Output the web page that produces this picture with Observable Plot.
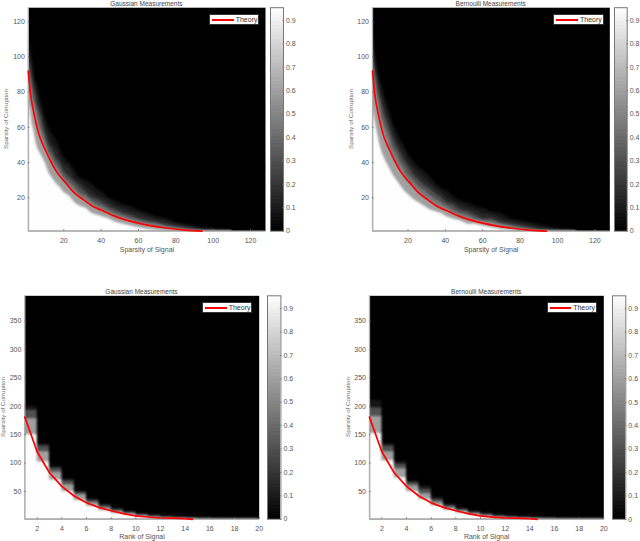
<!DOCTYPE html>
<html><head><meta charset="utf-8">
<script src="https://cdn.jsdelivr.net/npm/d3@7"></script>
<script src="https://cdn.jsdelivr.net/npm/@observablehq/plot@0.6"></script>
<style>
html,body{margin:0;padding:0;background:#fff;width:640px;height:541px;overflow:hidden}
#root{position:relative;width:640px;height:541px;font-family:"Liberation Sans",sans-serif}
#root svg{position:absolute;font-family:"Liberation Sans",sans-serif;background:transparent}
.t{position:absolute;font-size:6.5px;color:#444;text-align:center;white-space:nowrap;line-height:8px}
.lg{position:absolute;box-sizing:border-box;background:#fff;border:.6px solid #333;font-size:7px;color:#333;line-height:10px;white-space:nowrap}
.lg i{position:absolute;left:2px;top:4.2px;width:21.5px;height:1.6px;background:#f00}
.lg span{position:absolute;left:25.7px;top:-.4px}
</style></head><body><div id="root"></div>
<script>
// ---------- values ----------
const sparseX = [1,2,3,4,5,6,8,10,12,14,16,18,20,23,26,29,32,35,38,41,44,48,52,56,60,65,70,75,80,85,90,95,100,105,110];
const gaussSparse95 = [74,70,62,58,52,48,44,40,34,31,28,26,23,21,17,15,14,11,10,9,8,6,5,4,3,2,1.5,1,1,1,1,1,1,1,1];
const gaussSparse60 = [92,84,77,72,68,62,54,49,44,39,36,33,29,26,23,20,18,16,14,12,11,9,8,7,5,4.5,3.5,3,2,1.5,1,1,1,1,1];
const gaussSparse45 = [96,90,82,76,72,68,59,54,46,43,39,36,32,29,26,22,21,18,16,15,13,11,9.5,8,7,5.5,5,3.5,3,2,1.5,1,1,1,1];
const gaussSparse30 = [100,95,88,83,78,72,66,57,50,47,42,40,35,32,29,26,23,20,19,17,15,13,11,10,8,7,6,4.5,3.5,3,2,1.5,1,1,1];
const gaussSparse15 = [106,100,95,87,82,78,70,61,55,50,48,43,39,37,31,29,26,24,21,20,18,15,14,12,11,9,7.5,6.5,5,4,3,2,1.5,1,1];
const gaussSparse08 = [114,108,100,92,86,84,74,66,60,56,53,48,43,40,35,31,30,28,25,23,20,18,16,15,13,11,9,8,6,5,4,3,2.5,2,1.4];
const bernSparse95 = [72,66,60,55,50,46,41,37,33,30,27,24,22,19,17,15,13,12,11,9,8,7,5,5,4,3,2,1.5,1,1,1,1,1,1,1];
const bernSparse60 = [92,85,78,72,66,62,55,48,43,39,36,32,29,26,23,20,18,16,14,13,11,9,8,7,6,5,4,3,2,1.5,1,1,1,1,1];
const bernSparse45 = [98,90,84,78,73,67,60,55,48,45,40,37,33,30,26,24,21,19,17,15,13,11,10,8,7,6.5,5,4,3,2,1.5,1,1,1,1];
const bernSparse30 = [104,96,90,84,78,74,66,60,54,49,45,41,38,33,30,27,25,22,20,17,16,13,12,10,8,8,6,5,4,3,2,1.5,1,1,1];
const bernSparse15 = [110,102,94,88,84,79,71,65,58,53,49,46,41,37,34,31,28,25,23,20,18,16,14,13,11,10,8,6.5,5.5,4.5,3,2.5,1.5,1,1];
const bernSparse08 = [116,108,98,92,88,84,76,70,62,58,53,50,45,41,37,35,32,28,25,24,21,18,17,15,14,12,11,8,7,6,5,3.5,2.5,2,1.3];
const sparseTheoryX = [1,2.2,4,6.6,10.2,12.9,16,21.8,25,30.7,35,40,48.6,56,66.5,75,85,94];
const sparseTheoryY = [92,79,68,56.3,47,41,35,27.5,23.5,18.8,15.5,13,9,6.6,4.2,2.8,1.6,1];

const rankX = [1,2,3,4,5,6,7,8,9,10,11,12,13,14,15,16,17,18,19,20];
const gaussRank95 = [150,102,70,50,34,24,16,11,8,5,3,2,1,1,1,1,1,1,1,1];
const gaussRank60 = [178,120,84,62,44,30,21,15,11,7.5,5,3.5,2.5,2,1,1,1,1,1,1];
const gaussRank30 = [193,130,91,69,48,34,25,18,13,9,7,5,4,3,2,1,1,1,1,1];
const gaussRank08 = [200,134,94,72,51,37,27,20,15,11,9,7,6,5,3.5,2,1,1,1,1];
const bernRank95 = [152,104,74,50,36,25,17,12,8,5,3,2,1,1,1,1,1,1,1,1];
const bernRank60 = [182,120,90,60,46,31,22,16,11,7.5,5,4,3,2,1.5,1,1,1,1,1];
const bernRank30 = [197,130,98,66,54,36,25,18,13,10,7,5,4,3,2,1,1,1,1,1];
const bernRank08 = [210,134,103,69,60,40,28,21,16,12,9,7,6,5,4,2,1,1,1,1];
const rankTheoryX = [1,2,3,4,5,6,7,8,9,10,11,12,13,14,14.6];
const rankTheoryY = [181,120,83,59,42,30,22,16,11,7,5,3.5,3,2,1];

const sparseLevels = [0.08,0.15,0.3,0.45,0.6,0.95];
const rankLevels = [0.08,0.3,0.6,0.95];
const colorTicks = [0,0.1,0.2,0.3,0.4,0.5,0.6,0.7,0.8,0.9];
const colorTop = 0.955;
const sparseTicks = [20,40,60,80,100,120];
const rankXTicks = [2,4,6,8,10,12,14,16,18,20];
const rankYTicks = [50,100,150,200,250,300,350];
const titleGauss = "Gaussian Measurements";
const titleBern = "Bernoulli Measurements";
const legendText = "Theory";

// ---------- layout ----------
const panels = [
 {title:titleGauss,xlabel:"Sparsity of Signal",X:sparseX,levels:sparseLevels,L:[gaussSparse08,gaussSparse15,gaussSparse30,gaussSparse45,gaussSparse60,gaussSparse95],tx:sparseTheoryX,ty:sparseTheoryY,
  xd:[1,128],yd:[1,128],xt:sparseTicks,yt:sparseTicks,curve:"linear",line:"monotone-x",blur:0.8,
  left:27.8,right:265,top:7.2,bottom:230.7,cbL:269.7,cbR:282.7,h:256,lab:22,xo:21,lgX:209,lgY:14},
 {title:titleBern,xlabel:"Sparsity of Signal",X:sparseX,levels:sparseLevels,L:[bernSparse08,bernSparse15,bernSparse30,bernSparse45,bernSparse60,bernSparse95],tx:sparseTheoryX,ty:sparseTheoryY,
  xd:[1,128],yd:[1,128],xt:sparseTicks,yt:sparseTicks,curve:"linear",line:"monotone-x",blur:0.8,
  left:372,right:609.3,top:7.2,bottom:230.7,cbL:614,cbR:626.7,h:256,lab:21,xo:21,lgX:553.3,lgY:14},
 {title:titleGauss,xlabel:"Rank of Signal",X:rankX,levels:rankLevels,L:[gaussRank08,gaussRank30,gaussRank60,gaussRank95],tx:rankTheoryX,ty:rankTheoryY,
  xd:[1,20],yd:[1,394.6],xt:rankXTicks,yt:rankYTicks,curve:"step-after",line:"linear",blur:1.1,
  left:24.3,right:258.7,top:295.3,bottom:518.8,cbL:267.3,cbR:280.7,h:541,lab:21,xo:20,lgX:202,lgY:302},
 {title:titleBern,xlabel:"Rank of Signal",X:rankX,levels:rankLevels,L:[bernRank08,bernRank30,bernRank60,bernRank95],tx:rankTheoryX,ty:rankTheoryY,
  xd:[1,20],yd:[1,394.6],xt:rankXTicks,yt:rankYTicks,curve:"step-after",line:"linear",blur:1.1,
  left:369,right:603.3,top:295.3,bottom:518.8,cbL:612,cbR:625.3,h:541,lab:21,xo:20,lgX:546.5,lgY:302}
];

const root = document.getElementById("root");
const gray = {type:"linear",domain:[0,colorTop],range:["#000","#fff"],interpolate:"rgb"};
const axisColor = "#555", lineColor = "#b0b0b0";

function place(el,x,y){el.style.left=x+"px";el.style.top=y+"px";root.appendChild(el);}

for (const p of panels) {
  const originX = p.left - 27.8 < 100 ? 0 : 320;
  const originY = p.top < 100 ? 0 : 280;
  const svgW = p.cbL - 2 - originX, svgH = p.h - originY;
  const bands = p.levels.flatMap((v,i)=>p.X.map((x,j)=>({x,top:p.L[i][j],v})));
  const theory = p.tx.map((x,i)=>({x,y:p.ty[i]}));
  const chart = Plot.plot({
    width:svgW,height:svgH,
    marginLeft:p.left-originX,marginRight:svgW-(p.right-originX),
    marginTop:p.top-originY,marginBottom:svgH-(p.bottom-originY),
    x:{domain:p.xd},y:{domain:p.yd},color:gray,
    style:{fontSize:"7px",fontFamily:"Liberation Sans",color:axisColor,background:"transparent",overflow:"visible"},
    marks:[
      Plot.frame({fill:"#000",stroke:"none"}),
      Plot.areaY(bands,{x:"x",y1:p.yd[0]-20,y2:"top",z:"v",fill:"v",curve:p.curve,clip:"frame",imageFilter:`blur(${p.blur}px)`}),
      Plot.ruleX([p.xd[0]],{stroke:lineColor,strokeWidth:1.3}),
      Plot.ruleY([p.yd[0]],{stroke:lineColor,strokeWidth:1.3}),
      Plot.line(theory,{x:"x",y:"y",stroke:"#f00",strokeWidth:1.7,curve:p.line}),
      Plot.axisX({ticks:p.xt,tickFormat:d=>d,tickSize:-1.5,tickPadding:8,stroke:"#777",color:axisColor,label:p.xlabel,labelAnchor:"center",labelArrow:"none",labelOffset:p.xo,fontSize:7}),
      Plot.axisY({ticks:p.yt,tickFormat:d=>d,tickSize:-1.5,tickPadding:5,stroke:"#777",color:axisColor,label:null,fontSize:7})
    ]
  });
  chart.style.left=originX+"px";chart.style.top=originY+"px";
  root.appendChild(chart);
  const yl=document.createElement("div");yl.className="t";yl.textContent="Sparsity of Corruption";yl.style.color="#666";yl.style.fontSize="6.2px";
  yl.style.transform="translate(-50%,-50%) rotate(-90deg)";
  place(yl,p.left-p.lab,(p.top+p.bottom)/2);
  const tl=document.createElement("div");tl.className="t";tl.textContent=p.title;tl.style.width=(p.right-p.left)+"px";
  place(tl,p.left,p.top-7.7);
  const lg=document.createElement("div");lg.className="lg";lg.style.width="50.3px";lg.style.height="10.8px";
  lg.innerHTML="<i></i><span></span>";lg.querySelector("span").textContent=legendText;
  place(lg,p.lgX,p.lgY);
  // colorbar
  const n=64,step=colorTop/n;
  const ramp=d3.range(n).map(i=>({a:i*step,b:(i+1)*step,v:(i+.5)*step}));
  const cbOriginX=p.cbL-3,cbW=Math.min(640-cbOriginX,p.cbR-p.cbL+3+20);
  const bar=Plot.plot({
    width:cbW,height:svgH,
    marginLeft:3,marginRight:cbW-3-(p.cbR-p.cbL),marginTop:p.top-originY,marginBottom:svgH-(p.bottom-originY),
    x:{domain:[0,1],axis:null},y:{domain:[0,colorTop]},color:gray,
    style:{fontSize:"7px",fontFamily:"Liberation Sans",color:axisColor,background:"transparent",overflow:"visible"},
    marks:[
      Plot.rect(ramp,{x1:0,x2:1,y1:"a",y2:"b",fill:"v",shapeRendering:"crispEdges"}),
      Plot.axisY({anchor:"right",ticks:colorTicks,tickFormat:d=>d,tickSize:-1.5,tickPadding:4,stroke:"#777",color:axisColor,label:null,fontSize:7}),
      Plot.frame({stroke:"#777",strokeWidth:1})
    ]
  });
  bar.style.left=cbOriginX+"px";bar.style.top=originY+"px";
  root.appendChild(bar);
}
</script></body></html>
